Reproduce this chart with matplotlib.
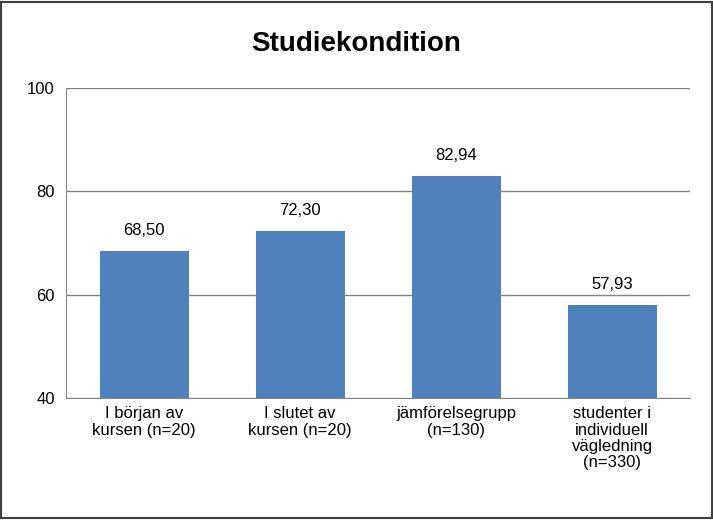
import matplotlib.pyplot as plt
from matplotlib.patches import Rectangle

# data
categories = ['I början av\nkursen (n=20)', 'I slutet av\nkursen (n=20)',
              'jämförelsegrupp\n(n=130)', 'studenter i\nindividuell\nvägledning\n(n=330)']
values = [68.50, 72.30, 82.94, 57.93]
yticks = [40, 60, 80, 100]

plt.rcParams['font.family'] = 'Liberation Sans'

fig = plt.figure(figsize=(7.13, 5.2), dpi=100)
ax = fig.add_axes([0.0926, 0.2346, 0.8754, 0.5962])

x = range(len(values))
ax.bar(x, values, width=0.57, color='#4F81BD', zorder=3)
for i, v in enumerate(values):
    ax.text(i, v + 2.5, f'{v:.2f}'.replace('.', ','), ha='center', va='bottom', fontsize=12)

ax.set_ylim(40, 100)
ax.set_xlim(-0.5, 3.5)
ax.set_yticks(yticks)
ax.tick_params(axis='y', labelsize=12, length=0, pad=8)
ax.set_xticks(list(x))
ax.set_xticklabels(categories, fontsize=12, va='top', linespacing=1.1)
ax.tick_params(axis='x', length=0, pad=6)
ax.yaxis.grid(True, color='#868686', linewidth=1, zorder=0)
for s in ['top', 'right']:
    ax.spines[s].set_visible(False)
ax.spines['left'].set_color('#868686')
ax.spines['bottom'].set_color('#868686')

fig.text(0.5, 0.915, 'Studiekondition', ha='center', va='center', fontsize=20, fontweight='bold')
fig.patches.append(Rectangle((0.002, 0.003), 0.996, 0.994, transform=fig.transFigure,
                             fill=False, edgecolor='#404040', linewidth=1.5))

fig.savefig('out.png', dpi=100)
